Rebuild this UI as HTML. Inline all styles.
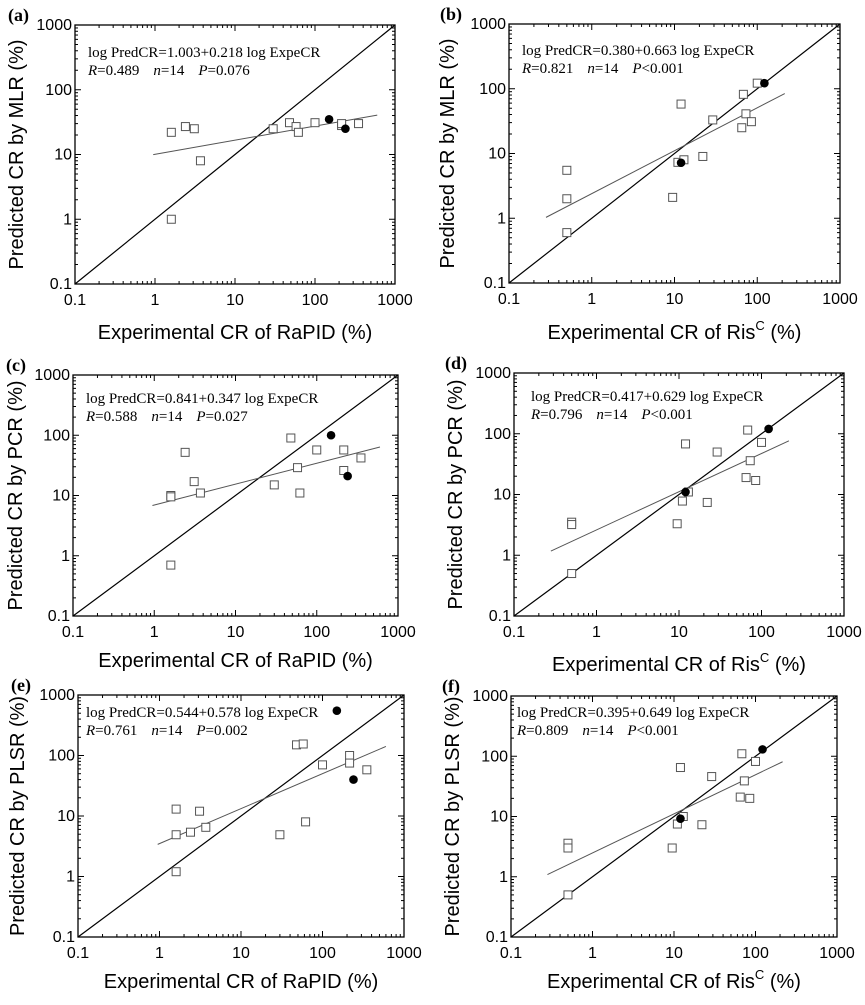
<!DOCTYPE html>
<html><head><meta charset="utf-8"><style>
body{margin:0;background:#fff}
svg text{font-family:"Liberation Sans",Arial,sans-serif}
.eq{font-family:"Liberation Serif","Times New Roman",serif;font-size:15px}
</style></head><body>
<svg id="fig" width="865" height="1000" viewBox="0 0 865 1000" xmlns="http://www.w3.org/2000/svg"></svg>
<script>
// Panel data (x = experimental CR, y = predicted CR)
const aOpenX=[1.6,2.4,3.1,3.7,1.6,30,48,58,62,100,215,215,350];
const aOpenY=[22,27,25,8,1.0,25,31,27,22,31,28,30,30];
const aFillX=[150,240]; const aFillY=[35,25];
const bOpenX=[0.5,0.5,0.5,9.5,11,13,12,22,29,65,68,73,85,100];
const bOpenY=[5.5,2.0,0.6,2.1,7.3,8,58,9,33,25,82,41,31,122];
const bFillX=[12,122]; const bFillY=[7.2,122];
const cOpenX=[1.6,1.6,2.4,3.1,3.7,1.6,30,48,58,62,100,215,215,350];
const cOpenY=[10,9.5,52,17,11,0.7,15,90,29,11,57,57,26,42];
const cFillX=[150,240]; const cFillY=[100,21];
const dOpenX=[0.5,0.5,0.5,9.5,11,13,12,22,29,65,68,73,85,100];
const dOpenY=[3.5,3.2,0.5,3.3,7.8,11,68,7.4,50,19,115,36,17,72];
const dFillX=[12,122]; const dFillY=[11,120];
const eOpenX=[1.6,1.6,1.6,2.4,3.1,3.7,30,48,58,62,100,215,215,350];
const eOpenY=[13,4.9,1.2,5.4,12,6.5,4.9,150,155,8,70,100,75,58];
const eFillX=[150,240]; const eFillY=[550,40];
const fOpenX=[0.5,0.5,0.5,9.5,11,13,12,22,29,65,68,73,85,100];
const fOpenY=[3.6,3.0,0.5,3.0,7.5,10,65,7.3,46,21,110,39,20,82];
const fFillX=[12,122]; const fFillY=[9.2,130];
const fitA=[1.003,0.218], fitB=[0.380,0.663], fitC=[0.841,0.347], fitD=[0.417,0.629], fitE=[0.544,0.578], fitF=[0.395,0.649];
const fitRangeRaPID=[0.95,600], fitRangeRis=[0.28,215];
const tickLabels=["0.1","1","10","100","1000"];
const eqA=["1.003","0.218","0.489","P","=0.076"], eqB=["0.380","0.663","0.821","P","<0.001"], eqC=["0.841","0.347","0.588","P","=0.027"];
const eqD=["0.417","0.629","0.796","P","<0.001"], eqE=["0.544","0.578","0.761","P","=0.002"], eqF=["0.395","0.649","0.809","P","<0.001"];

const NS="http://www.w3.org/2000/svg";
const svg=document.getElementById('fig');
function mk(tag,attrs,parent){const e=document.createElementNS(NS,tag);for(const k in attrs)e.setAttribute(k,attrs[k]);(parent||svg).appendChild(e);return e;}

const panels=[
 {id:'a',L:75,R:395,T:25,B:284,open:[aOpenX,aOpenY],fill:[aFillX,aFillY],fit:fitA,fr:fitRangeRaPID,eq:eqA,ex:13,ey:32,yt:'Predicted CR by MLR (%)',ytx:16,xt:'RaPID',xty:339},
 {id:'b',L:509,R:840,T:24,B:283,open:[bOpenX,bOpenY],fill:[bFillX,bFillY],fit:fitB,fr:fitRangeRis,eq:eqB,ex:13,ey:31,yt:'Predicted CR by MLR (%)',ytx:447,xt:'Ris',xty:339},
 {id:'c',L:73,R:398,T:375,B:616,open:[cOpenX,cOpenY],fill:[cFillX,cFillY],fit:fitC,fr:fitRangeRaPID,eq:eqC,ex:13,ey:28,yt:'Predicted CR by PCR (%)',ytx:15,xt:'RaPID',xty:667},
 {id:'d',L:514,R:844,T:373,B:616,open:[dOpenX,dOpenY],fill:[dFillX,dFillY],fit:fitD,fr:fitRangeRis,eq:eqD,ex:17,ey:28,yt:'Predicted CR by PCR (%)',ytx:455,xt:'Ris',xty:671},
 {id:'e',L:78,R:404,T:695,B:937,open:[eOpenX,eOpenY],fill:[eFillX,eFillY],fit:fitE,fr:fitRangeRaPID,eq:eqE,ex:8,ey:22,yt:'Predicted CR by PLSR (%)',ytx:17,xt:'RaPID',xty:988},
 {id:'f',L:511,R:837,T:696,B:937,open:[fOpenX,fOpenY],fill:[fFillX,fFillY],fit:fitF,fr:fitRangeRis,eq:eqF,ex:6,ey:21,yt:'Predicted CR by PLSR (%)',ytx:452,xt:'Ris',xty:988}
];

panels.forEach(p=>{
 const g=mk('g',{});
 
 
 const sx=v=>p.L+(Math.log10(v)+1)/4*(p.R-p.L);
 const sy=v=>p.B-(Math.log10(v)+1)/4*(p.B-p.T);
 for(let d=-1;d<3;d++){for(let m=1;m<10;m++){
  const v=m*Math.pow(10,d); const len=m===1?6:3;
  const x=sx(v), y=sy(v);
  mk('line',{x1:x,y1:p.B,x2:x,y2:p.B-len,stroke:'#000','stroke-width':1},g);
  mk('line',{x1:x,y1:p.T,x2:x,y2:p.T+len,stroke:'#000','stroke-width':1},g);
  mk('line',{x1:p.L,y1:y,x2:p.L+len,y2:y,stroke:'#000','stroke-width':1},g);
  mk('line',{x1:p.R,y1:y,x2:p.R-len,y2:y,stroke:'#000','stroke-width':1},g);
 }}
 tickLabels.forEach((t,i)=>{
  const v=Math.pow(10,i-1);
  const xl=mk('text',{x:sx(v),y:p.B+21,'font-size':16,'text-anchor':'middle'},g);xl.textContent=t;
  
  
  const yl=mk('text',{x:p.L-3,y:sy(v)+5,'font-size':16,'text-anchor':'end'},g);yl.textContent=t;
  
  
 });
 const diag=mk('line',{x1:sx(0.1),y1:sy(0.1),x2:sx(1000),y2:sy(1000),stroke:'#000','stroke-width':1.2},g);
 
 
 const f=v=>Math.pow(10,p.fit[0]+p.fit[1]*Math.log10(v));
 const fl=mk('line',{x1:sx(p.fr[0]),y1:sy(f(p.fr[0])),x2:sx(p.fr[1]),y2:sy(f(p.fr[1])),stroke:'#555','stroke-width':1},g);
 
 
 p.open[0].forEach((xv,i)=>{
  const r=mk('rect',{x:sx(xv)-4,y:sy(p.open[1][i])-4,width:8,height:8,fill:'#fff',stroke:'#555','stroke-width':1},g);
  
  
 });
 p.fill[0].forEach((xv,i)=>{
  const c=mk('circle',{cx:sx(xv),cy:sy(p.fill[1][i]),r:4.3,fill:'#000'},g);
  
  
 });
 const fr=mk('rect',{x:p.L,y:p.T,width:p.R-p.L,height:p.B-p.T,fill:'none',stroke:'#000','stroke-width':1.3},g);
 
 
 const e1=mk('text',{x:p.L+p.ex,y:p.T+p.ey,class:'eq'},g);
 e1.textContent='log PredCR='+p.eq[0]+'+'+p.eq[1]+' log ExpeCR';
 
 
 const e2=mk('text',{x:p.L+p.ex,y:p.T+p.ey+18,class:'eq'},g);
 e2.innerHTML='<tspan font-style="italic">R</tspan>='+p.eq[2]+'<tspan dx="14" font-style="italic">n</tspan>=14<tspan dx="14" font-style="italic">'+p.eq[3]+'</tspan>'+p.eq[4];
 
 
 const pl=mk('text',{x:p.L-67+(p.id==='b'||p.id==='d'||p.id==='f'?-2:0),y:p.T-4,'font-size':18,'font-weight':'bold',style:'font-family:"Liberation Serif",serif'},g);
 pl.textContent='('+p.id+')';
 
 
 const cy=(p.T+p.B)/2;
 const yt=mk('text',{x:p.ytx,y:cy,'font-size':20,'text-anchor':'middle',transform:'rotate(-90 '+p.ytx+' '+cy+')',dy:7},g);
 yt.textContent=p.yt;
 
 
 const xt=mk('text',{x:(p.L+p.R)/2,y:p.xty,'font-size':20,'text-anchor':'middle'},g);
 if(p.xt==='RaPID') xt.textContent='Experimental CR of RaPID (%)';
 else xt.innerHTML='Experimental CR of Ris<tspan font-size="13" dy="-9">C</tspan><tspan dy="9"> (%)</tspan>';
 
 
});
</script>
</body></html>
